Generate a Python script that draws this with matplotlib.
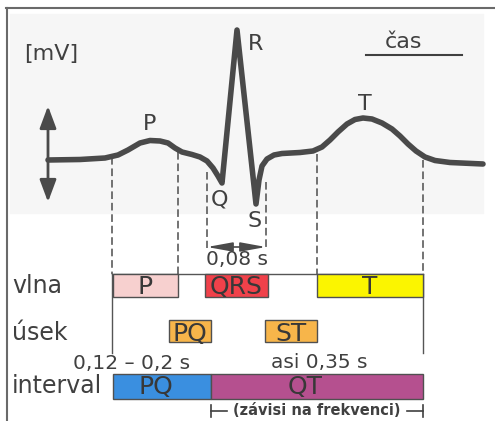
import matplotlib
matplotlib.use("Agg")
import matplotlib.pyplot as plt
from matplotlib.patches import Rectangle

plt.rcParams["font.family"] = ["DejaVu Sans"]

# ECG trace (time -> x, potential -> y, image units)
ecg_x = [48, 80, 105, 118, 128, 140, 150, 160, 168, 175, 182, 192, 200, 207,
         213, 218, 222, 237, 256, 259, 262, 267, 274, 282, 300, 313, 322, 330,
         338, 347, 355, 363, 372, 382, 392, 400, 408, 416, 425, 435, 450, 483]
ecg_y = [160, 159.5, 158, 155, 150, 143, 140.5, 141, 143, 148, 152, 154.5, 157,
         161, 168, 176, 183, 30, 204, 180, 166, 159, 155, 153.5, 152.5, 151,
         147, 140, 132, 124, 119.5, 118, 119, 123, 129, 136, 144, 151, 157,
         160.5, 162.5, 164]

# wave labels on the trace
wave_names = ["P", "R", "Q", "S", "T"]
wave_x = [150, 256, 219, 255, 365]
wave_y = [130, 50, 205, 227, 110]

# boundaries of the waves (dashed markers)
p_start, p_end = 112, 178
qrs_start, qrs_end = 207, 266
t_start, t_end = 317, 423

# rows of the table below the trace
row_names = ["vlna", "úsek", "interval"]

vlna_labels = ["P", "QRS", "T"]
vlna_start = [113, 205, 317]
vlna_end = [178, 268, 423]

usek_labels = ["PQ", "ST"]
usek_start = [169, 265]
usek_end = [211, 317]

interval_labels = ["PQ", "QT"]
interval_start = [113, 211]
interval_end = [211, 423]

qrs_text = "0,08 s"
pq_text = "0,12 – 0,2 s"
qt_text = "asi 0,35 s"
note_text = "(závisi na frekvenci)"

ink = "#404040"
dash_kw = dict(color="#4d4d4d", lw=1.1, dashes=(5, 2.5))

fig = plt.figure(figsize=(4.95, 4.21), dpi=100)
ax = fig.add_axes([0, 0, 1, 1])
ax.set_xlim(0, 495)
ax.set_ylim(421, 0)
ax.axis("off")

# paper background and frame
ax.add_patch(Rectangle((10, 14), 473, 199, color="#f6f6f6", zorder=0))
ax.plot([6, 495], [8, 8], color="#6a6a6a", lw=1.5)
ax.plot([7, 7], [8, 421], color="#6a6a6a", lw=1.5)

# trace
ax.plot(ecg_x, ecg_y, color="#4a4a4a", lw=4.0,
        solid_joinstyle="round", solid_capstyle="round", zorder=5)

ax.annotate("", xy=(48, 106), xytext=(48, 202),
            arrowprops=dict(arrowstyle="<|-|>,head_length=0.75,head_width=0.28",
                            color="#4a4a4a", lw=2, mutation_scale=18,
                            shrinkA=0, shrinkB=0))

for name, x, y in zip(wave_names, wave_x, wave_y):
    ax.text(x, y, name, ha="center", va="baseline", fontsize=16, color=ink)

ax.text(51, 60, "[mV]", ha="center", va="baseline", fontsize=16, color=ink)
ax.text(404, 48, "čas", ha="center", va="baseline", fontsize=16, color=ink)
ax.plot([366, 462], [55, 55], color=ink, lw=1.5)

# dashed markers from the trace to the table
ax.plot([p_start, p_start], [157, 274], **dash_kw)
ax.plot([p_end, p_end], [152, 274], **dash_kw)
ax.plot([qrs_start, qrs_start], [172, 248], **dash_kw)
ax.plot([qrs_end, qrs_end], [182, 248], **dash_kw)
ax.plot([t_start, t_start], [154, 274], **dash_kw)
ax.plot([t_end, t_end], [160, 274], **dash_kw)

ax.annotate("", xy=(qrs_start, 247), xytext=(qrs_end, 247),
            arrowprops=dict(arrowstyle="<|-|>,head_length=1.1,head_width=0.2",
                            color="#4a4a4a", lw=1.2, mutation_scale=14,
                            shrinkA=0, shrinkB=0))
ax.text((qrs_start + qrs_end) / 2, 265, qrs_text, ha="center", va="baseline",
        fontsize=14.5, color=ink)

# table frame lines
ax.plot([p_start, t_end], [274, 274], color="#555555", lw=1)
ax.plot([p_start, p_start], [274, 353], color="#555555", lw=1)
ax.plot([t_end, t_end], [274, 353], color="#555555", lw=1)

row_y = [274, 320, 374]
row_h = [23, 22, 25]
row_base = [293, 340, 393]
for name, base in zip(row_names, row_base):
    ax.text(12, base, name, ha="left", va="baseline", fontsize=17, color=ink)

rows = [
    (vlna_labels, vlna_start, vlna_end, ["#f7d0cf", "#f0414a", "#fbf500"], [0, 0, 0]),
    (usek_labels, usek_start, usek_end, ["#f7b54a", "#f7b54a"], [0, 0]),
    (interval_labels, interval_start, interval_end, ["#3a8fe0", "#b5508f"], [-6, -12]),
]
for (labels, starts, ends, colors, shifts), y0, h, base in zip(rows, row_y, row_h, row_base):
    ax.barh(y0 + h / 2, [e - s for s, e in zip(starts, ends)], left=starts,
            height=h, color=colors, edgecolor="#505050", lw=1, zorder=3)
    for lab, s, e, dx in zip(labels, starts, ends, shifts):
        ax.text((s + e) / 2 + dx, base + 1, lab, ha="center", va="baseline",
                fontsize=18, color="#383838", zorder=4)

ax.text(132, 369, pq_text, ha="center", va="baseline", fontsize=14.5, color=ink)
ax.text(319, 368, qt_text, ha="center", va="baseline", fontsize=14.5, color=ink)

# "depends on heart rate" bracket under QT
lo, hi = interval_start[1], interval_end[1]
ax.plot([lo, lo], [405, 417], color=ink, lw=1.2)
ax.plot([lo, lo + 16], [411, 411], color=ink, lw=1.2)
ax.plot([hi - 16, hi], [411, 411], color=ink, lw=1.2)
ax.plot([hi, hi], [405, 417], color=ink, lw=1.2)
ax.text((lo + hi) / 2, 415, note_text, ha="center", va="baseline",
        fontsize=10.5, fontweight="bold", color=ink)

fig.savefig("out.png", dpi=100)
